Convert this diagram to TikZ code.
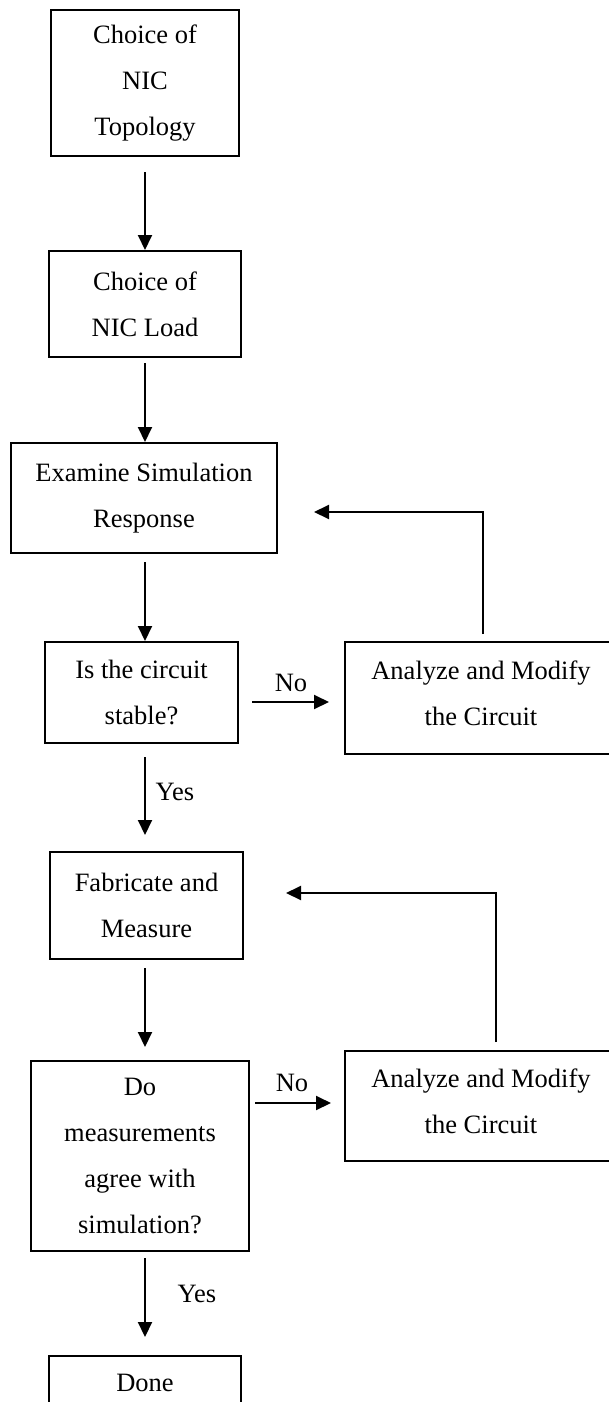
\documentclass[tikz,border=0pt]{standalone}
\usepackage{fontspec}
\setmainfont{Liberation Serif}
\usetikzlibrary{arrows.meta}
\begin{document}
\begin{tikzpicture}[x=1pt,y=-1pt,
  box/.style={draw, line width=2pt, align=center, font=\fontsize{26.5}{46}\selectfont, inner sep=0pt},
  arr/.style={-{Triangle[length=15pt,width=14pt]}, line width=2pt},
  lbl/.style={font=\fontsize{26.5}{30}\selectfont, inner sep=0pt}]
\useasboundingbox (0,0) rectangle (609,1402);
\clip (0,0) rectangle (609,1402);

\node[box, minimum width=188pt, minimum height=146pt] (topo) at (145,83) {Choice of\\NIC\\Topology};
\node[box, minimum width=192pt, minimum height=106pt] (load) at (145,304) {Choice of\\NIC Load};
\node[box, minimum width=266pt, minimum height=110pt] (exam) at (144,498) {Examine Simulation\\Response};
\node[box, minimum width=193pt, minimum height=101pt] (stab) at (141.5,692.5) {Is the circuit\\stable?};
\node[box, minimum width=272pt, minimum height=112pt, text depth=10pt] (mod1) at (481,698) {Analyze and Modify\\the Circuit};
\node[box, minimum width=193pt, minimum height=107pt] (fab) at (146.5,905.5) {Fabricate and\\Measure};
\node[box, minimum width=218pt, minimum height=190pt] (agree) at (140,1156) {Do\\measurements\\agree with\\simulation?};
\node[box, minimum width=272pt, minimum height=110pt, text depth=10pt] (mod2) at (481,1106) {Analyze and Modify\\the Circuit};
\node[box, minimum width=192pt, text height=20pt, text depth=65pt, inner ysep=15pt, anchor=north] (done) at (145,1355) {Done};

\coordinate (c1) at (483,512);
\coordinate (c2) at (496,893);
\coordinate (y1) at (300,702);
\coordinate (y2) at (300,1103);

\draw[arr, shorten <=15pt] (topo.south) -- (load.north);
\draw[arr, shorten <=5pt] (load.south) -- (exam.north -| load.north);
\draw[arr, shorten <=8pt] (exam.south -| load.north) -- (stab.north -| load.north);
\draw[arr, shorten <=13pt, shorten >=16pt] (stab.south -| load.north) -- (fab.north -| load.north);
\draw[arr, shorten <=8pt, shorten >=13pt] (fab.south -| load.north) -- (agree.north -| load.north);
\draw[arr, shorten <=6pt, shorten >=18pt] (agree.south -| load.north) -- (done.north);

\draw[arr, shorten <=13pt, shorten >=15pt] (stab.east |- y1) -- (mod1.west |- y1);
\draw[arr, shorten <=5pt, shorten >=13pt] (agree.east |- y2) -- (mod2.west |- y2);

\draw[arr, shorten <=7pt, shorten >=36pt] (c1 |- mod1.north) -- (c1) -- (c1 -| exam.east);
\draw[arr, shorten <=8pt, shorten >=42pt] (c2 |- mod2.north) -- (c2) -- (c2 -| fab.east);

\node[lbl] (no1) at (291,683) {No};
\node[lbl] (no2) at (292,1083) {No};
\node[lbl] (yes1) at (175,792) {Yes};
\node[lbl] (yes2) at (197,1294) {Yes};
\end{tikzpicture}
\end{document}
